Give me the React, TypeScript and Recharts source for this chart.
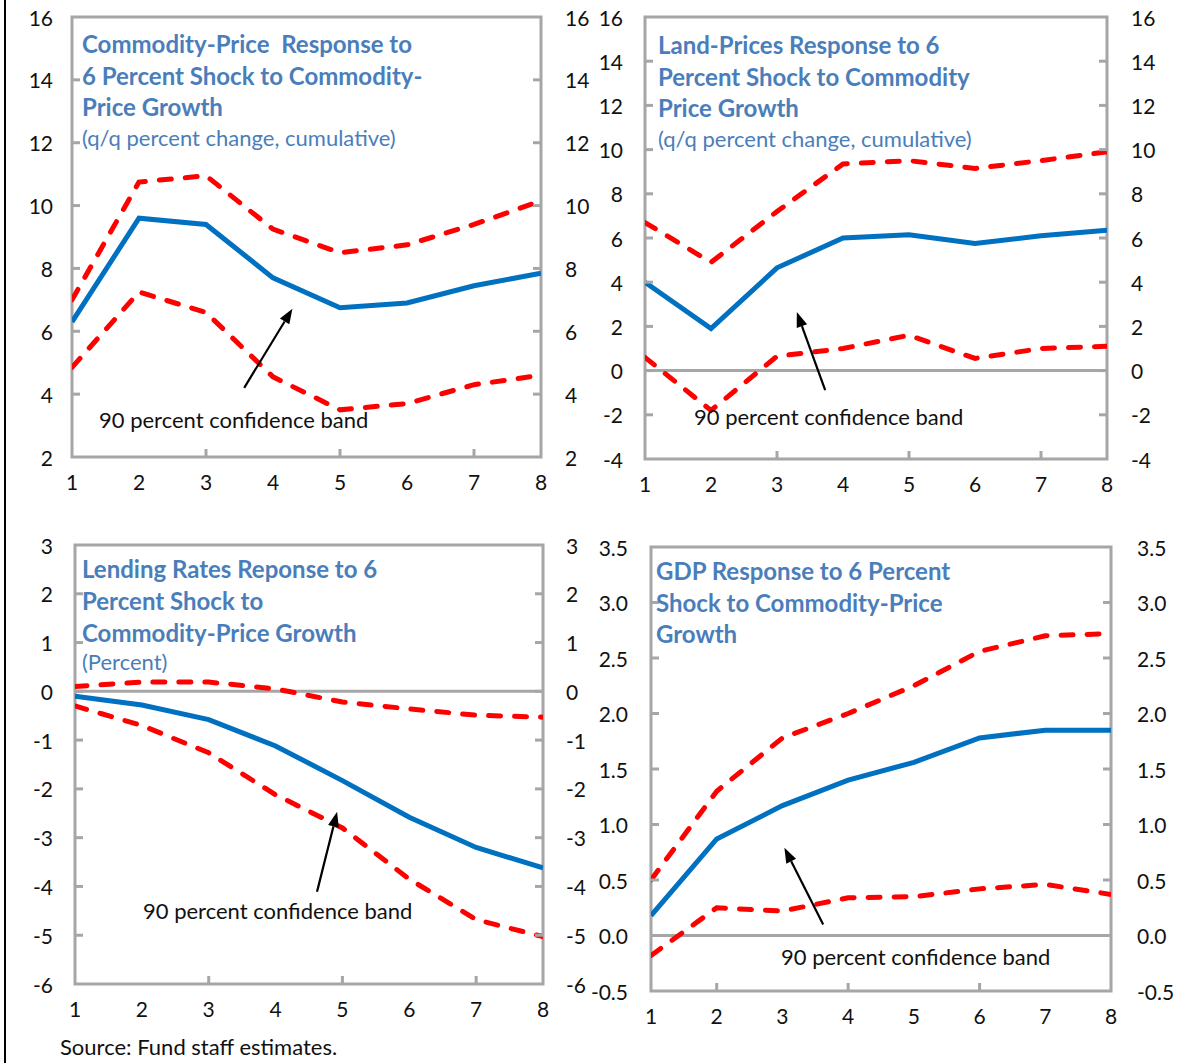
import React from 'react';
import { LineChart, Line, XAxis, YAxis, ReferenceLine, ReferenceArea } from 'recharts';

// ---------- data ----------
const quarters = [1, 2, 3, 4, 5, 6, 7, 8];

const commodityMid = [6.3, 9.6, 9.4, 7.7, 6.75, 6.9, 7.45, 7.85];
const commodityUp = [7.0, 10.75, 10.95, 9.25, 8.5, 8.75, 9.4, 10.15];
const commodityLo = [4.85, 7.25, 6.6, 4.55, 3.5, 3.7, 4.3, 4.6];

const landMid = [4.0, 1.9, 4.65, 6.0, 6.15, 5.75, 6.1, 6.35];
const landUp = [6.7, 4.9, 7.2, 9.35, 9.5, 9.15, 9.5, 9.9];
const landLo = [0.6, -1.8, 0.65, 1.0, 1.6, 0.55, 1.0, 1.1];

const lendMid = [-0.1, -0.28, -0.58, -1.12, -1.83, -2.58, -3.2, -3.62];
const lendUp = [0.1, 0.19, 0.19, 0.05, -0.22, -0.36, -0.49, -0.53];
const lendLo = [-0.3, -0.7, -1.26, -2.12, -2.8, -3.85, -4.68, -5.03];

const gdpMid = [0.18, 0.87, 1.17, 1.4, 1.56, 1.78, 1.85, 1.85];
const gdpUp = [0.5, 1.3, 1.78, 2.0, 2.25, 2.56, 2.7, 2.72];
const gdpLo = [-0.18, 0.25, 0.22, 0.34, 0.35, 0.42, 0.46, 0.37];

const ticksCommodity = [2, 4, 6, 8, 10, 12, 14, 16];
const ticksLand = [-4, -2, 0, 2, 4, 6, 8, 10, 12, 14, 16];
const ticksLend = [-6, -5, -4, -3, -2, -1, 0, 1, 2, 3];
const ticksGdp = [-0.5, 0, 0.5, 1, 1.5, 2, 2.5, 3, 3.5];

const bandLabel = '90 percent confidence band';

// ---------- style ----------
const FONT = "Lato, 'Open Sans', sans-serif";
const GRAY = '#A6A6A6';
const BLUE = '#0070C0';
const RED = '#FF0000';
const TITLE = '#4A7EBB';
const WL = 70;
const WR = 70;
const MT = 15;
const HX = 45;
const TICK_FS = 21;

type Pt = { x: number; y: number };

const makeArrow = (props: any) => {
  const { x1, y1, x2, y2 } = props;
  const ang = Math.atan2(y2 - y1, x2 - x1);
  const len = 15;
  const hw = 5.5;
  const bx = x2 - len * Math.cos(ang);
  const by = y2 - len * Math.sin(ang);
  const px = -Math.sin(ang) * hw;
  const py = Math.cos(ang) * hw;
  return (
    <g>
      <line x1={x1} y1={y1} x2={bx} y2={by} stroke="#000" strokeWidth={2.2} />
      <polygon points={`${x2},${y2} ${bx + px},${by + py} ${bx - px},${by - py}`} fill="#000" />
    </g>
  );
};

type PanelProps = {
  x0: number; x1: number; y0: number; y1: number;
  domain: [number, number];
  ticks: number[];
  fmt: (v: number) => string;
  xMarks: number[];
  mid: number[]; up: number[]; lo: number[];
  zero: boolean;
  arrow: Pt[];
  gapL: number; gapR: number;
};

function Panel(p: PanelProps) {
  const pw = p.x1 - p.x0;
  const ph = p.y1 - p.y0;
  const W = pw + WL + WR;
  const H = ph + MT + HX;
  const plotL = WL;
  const plotR = WL + pw;
  const plotB = MT + ph;
  const data = quarters.map((q, i) => ({ q, mid: p.mid[i], up: p.up[i], lo: p.lo[i] }));
  const edge = (v: number) => v === p.domain[0] || v === p.domain[1];

  const xTick = (t: any) => {
    const v = t.payload.value;
    return (
      <g>
        <text x={t.x} y={plotB + 24} textAnchor="middle" dominantBaseline="central" fontFamily={FONT} fontSize={TICK_FS} fill="#111">{v}</text>
        {p.xMarks.includes(v) && <line x1={t.x} x2={t.x} y1={plotB} y2={plotB - 8} stroke={GRAY} strokeWidth={3} />}
      </g>
    );
  };
  const yTickL = (t: any) => {
    const v = t.payload.value;
    return (
      <g>
        <text x={plotL - p.gapL} y={t.y} textAnchor="end" dominantBaseline="central" fontFamily={FONT} fontSize={TICK_FS} fill="#111">{p.fmt(v)}</text>
        {!edge(v) && <line x1={plotL} x2={plotL + 8} y1={t.y} y2={t.y} stroke={GRAY} strokeWidth={3} />}
      </g>
    );
  };
  const yTickR = (t: any) => {
    const v = t.payload.value;
    return (
      <g>
        <text x={plotR + p.gapR} y={t.y} textAnchor="start" dominantBaseline="central" fontFamily={FONT} fontSize={TICK_FS} fill="#111">{p.fmt(v)}</text>
        {!edge(v) && <line x1={plotR - 8} x2={plotR} y1={t.y} y2={t.y} stroke={GRAY} strokeWidth={3} />}
      </g>
    );
  };

  return (
    <div style={{ position: 'absolute', left: p.x0 - WL, top: p.y0 - MT }}>
      <LineChart width={W} height={H} data={data} margin={{ top: MT, right: 0, bottom: 0, left: 0 }}>
        <XAxis dataKey="q" type="number" domain={[1, 8]} ticks={quarters} interval={0} height={HX}
          axisLine={false} tickLine={false} tickSize={0} tick={xTick} allowDataOverflow />
        <YAxis yAxisId="l" orientation="left" width={WL} domain={p.domain} ticks={p.ticks} interval={0}
          axisLine={false} tickLine={false} tickSize={0} tick={yTickL} allowDataOverflow type="number" />
        <YAxis yAxisId="r" orientation="right" width={WR} domain={p.domain} ticks={p.ticks} interval={0}
          axisLine={false} tickLine={false} tickSize={0} tick={yTickR} allowDataOverflow type="number" />
        <ReferenceArea yAxisId="l" x1={1} x2={8} y1={p.domain[0]} y2={p.domain[1]} fill="none" fillOpacity={0}
          stroke={GRAY} strokeWidth={3} ifOverflow="visible" />
        {p.zero && <ReferenceLine yAxisId="l" y={0} stroke={GRAY} strokeWidth={3} />}
        <Line yAxisId="l" dataKey="up" stroke={RED} strokeWidth={5} strokeDasharray="12 14" strokeLinecap="round"
          dot={false} activeDot={false} isAnimationActive={false} />
        <Line yAxisId="l" dataKey="lo" stroke={RED} strokeWidth={5} strokeDasharray="12 14" strokeLinecap="round"
          dot={false} activeDot={false} isAnimationActive={false} />
        <Line yAxisId="l" dataKey="mid" stroke={BLUE} strokeWidth={5} dot={false} activeDot={false}
          isAnimationActive={false} />
        <ReferenceLine yAxisId="l" segment={p.arrow} shape={makeArrow} ifOverflow="visible" />
      </LineChart>
    </div>
  );
}

function TextLine({ x, cy, text, bold, size }: { x: number; cy: number; text: string; bold?: boolean; size: number }) {
  return (
    <div style={{
      position: 'absolute', left: x, top: cy - 16, height: 32, lineHeight: '32px', whiteSpace: 'pre',
      fontFamily: FONT, fontSize: size, fontWeight: bold ? 700 : 400, color: TITLE,
    }}>{text}</div>
  );
}

function Note({ x, cy, text, size = 22 }: { x: number; cy: number; text: string; size?: number }) {
  return (
    <div style={{
      position: 'absolute', left: x, top: cy - 16, height: 32, lineHeight: '32px', whiteSpace: 'pre',
      fontFamily: FONT, fontSize: size, color: '#111',
    }}>{text}</div>
  );
}

const f0 = (v: number) => String(v);
const f1 = (v: number) => v.toFixed(1);

const TS = 24;
const SS = 22;

export default function App() {
  return (
    <div style={{ position: 'absolute', left: 0, top: 0, width: 1188, height: 1063, background: '#fff', overflow: 'hidden' }}>
      <div style={{ position: 'absolute', left: 4, top: 0, width: 2, height: 1063, background: '#000' }} />

      <Panel x0={72} x1={541} y0={17} y1={457} domain={[2, 16]} ticks={ticksCommodity} fmt={f0} xMarks={[3, 5, 7]}
        mid={commodityMid} up={commodityUp} lo={commodityLo} zero={false}
        arrow={[{ x: 3.57, y: 4.2 }, { x: 4.29, y: 6.72 }]} gapL={19} gapR={24} />
      <Panel x0={645} x1={1107} y0={17} y1={459} domain={[-4, 16]} ticks={ticksLand} fmt={f0} xMarks={[3, 5, 7]}
        mid={landMid} up={landUp} lo={landLo} zero={true}
        arrow={[{ x: 3.73, y: -0.88 }, { x: 3.3, y: 2.65 }]} gapL={22} gapR={24} />
      <Panel x0={75} x1={543} y0={545} y1={984} domain={[-6, 3]} ticks={ticksLend} fmt={f0} xMarks={[3, 5, 7]}
        mid={lendMid} up={lendUp} lo={lendLo} zero={true}
        arrow={[{ x: 4.62, y: -4.11 }, { x: 4.92, y: -2.47 }]} gapL={22} gapR={23} />
      <Panel x0={651} x1={1111} y0={547} y1={991} domain={[-0.5, 3.5]} ticks={ticksGdp} fmt={f1} xMarks={[2, 4, 6]}
        mid={gdpMid} up={gdpUp} lo={gdpLo} zero={true}
        arrow={[{ x: 3.62, y: 0.1 }, { x: 3.03, y: 0.79 }]} gapL={23} gapR={26} />

      <TextLine x={82} cy={44} text="Commodity-Price  Response to" bold size={TS} />
      <TextLine x={82} cy={76} text="6 Percent Shock to Commodity-" bold size={TS} />
      <TextLine x={82} cy={107} text="Price Growth" bold size={TS} />
      <TextLine x={82} cy={138} text="(q/q percent change, cumulative)" size={SS} />

      <TextLine x={658} cy={45} text="Land-Prices Response to 6" bold size={TS} />
      <TextLine x={658} cy={77} text="Percent Shock to Commodity" bold size={TS} />
      <TextLine x={658} cy={108} text="Price Growth" bold size={TS} />
      <TextLine x={658} cy={139} text="(q/q percent change, cumulative)" size={SS} />

      <TextLine x={82} cy={569} text="Lending Rates Reponse to 6" bold size={TS} />
      <TextLine x={82} cy={601} text="Percent Shock to" bold size={TS} />
      <TextLine x={82} cy={633} text="Commodity-Price Growth" bold size={TS} />
      <TextLine x={82} cy={662} text="(Percent)" size={SS} />

      <TextLine x={656} cy={571} text="GDP Response to 6 Percent" bold size={TS} />
      <TextLine x={656} cy={603} text="Shock to Commodity-Price" bold size={TS} />
      <TextLine x={656} cy={634} text="Growth" bold size={TS} />

      <Note x={99} cy={420} text={bandLabel} />
      <Note x={694} cy={417} text={bandLabel} />
      <Note x={143} cy={911} text={bandLabel} />
      <Note x={781} cy={957} text={bandLabel} />

      <Note x={60} cy={1047} text="Source: Fund staff estimates." />
    </div>
  );
}
